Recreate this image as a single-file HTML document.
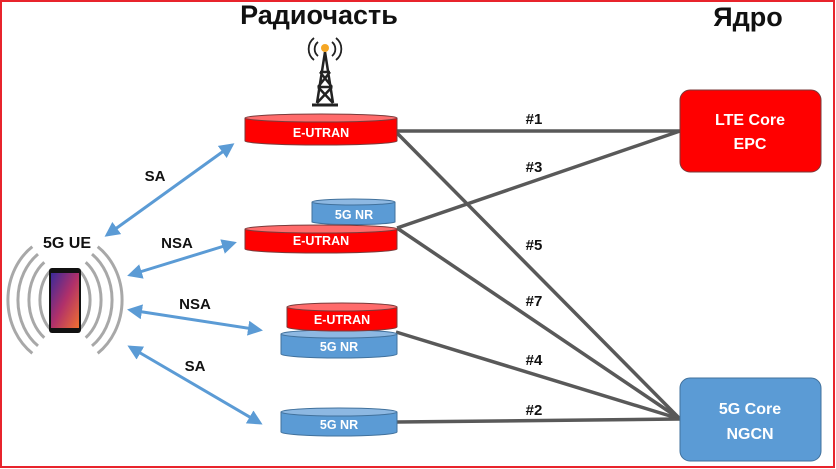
<!DOCTYPE html>
<html><head><meta charset="utf-8"><style>
html,body{margin:0;padding:0;background:#fff}
svg{display:block}
text{font-family:"Liberation Sans",sans-serif;font-weight:bold}
</style></head><body>
<svg width="836" height="469" viewBox="0 0 836 469" xmlns="http://www.w3.org/2000/svg">
<defs>
<marker id="ah" viewBox="0 0 10 10" refX="8" refY="5" markerWidth="5" markerHeight="5" orient="auto-start-reverse"><path d="M0,0 L10,5 L0,10 z" fill="#5b9bd5"/></marker>
<linearGradient id="pg" x1="0" y1="0" x2="1" y2="1"><stop offset="0" stop-color="#3a2a9a"/><stop offset="0.5" stop-color="#b0306a"/><stop offset="1" stop-color="#f07030"/></linearGradient>
</defs>
<rect x="1" y="1" width="833" height="466" fill="#fff" stroke="#e8242c" stroke-width="2"/>
<text x="319" y="24" font-size="27" text-anchor="middle" fill="#111">Радиочасть</text>
<text x="748" y="26" font-size="27" text-anchor="middle" fill="#111">Ядро</text>
<!-- tower -->
<g stroke="#222" stroke-width="2.5" fill="none">
<path d="M325,52 L317,103 M325,52 L333,103 M320,72 L330,72 M318,87 L332,87 M320,72 L332,87 M330,72 L318,87 M318,87 L333,103 M332,87 L317,103"/>
<path d="M312,105 L338,105" stroke-width="3"/>
<path d="M318,42 a9,9 0 0 0 0,14 M332,42 a9,9 0 0 1 0,14 M314,38 a14,14 0 0 0 0,22 M336,38 a14,14 0 0 1 0,22" stroke-width="1.8"/>
</g>
<circle cx="325" cy="48" r="4" fill="#f5a623"/>
<!-- gray lines -->
<g stroke="#595959" stroke-width="3.5" fill="none">
<line x1="397" y1="131" x2="680" y2="131"/>
<line x1="397" y1="133" x2="680" y2="419"/>
<line x1="397" y1="228" x2="680" y2="131"/>
<line x1="397" y1="228" x2="680" y2="419"/>
<line x1="396" y1="332" x2="680" y2="419"/>
<line x1="397" y1="422" x2="680" y2="419"/>
</g>
<g font-size="15" fill="#111" text-anchor="middle">
<text x="534" y="124">#1</text>
<text x="534" y="172">#3</text>
<text x="534" y="250">#5</text>
<text x="534" y="306">#7</text>
<text x="534" y="365">#4</text>
<text x="534" y="415">#2</text>
</g>
<!-- cylinders -->
<g font-size="12.5" fill="#fff" text-anchor="middle" stroke-width="1">
<path d="M245,118 v23 a76,4 0 0 0 152,0 v-23" fill="#ff0000" stroke="#7a3a3a"/>
<ellipse cx="321" cy="118" rx="76" ry="4" fill="#ff6b6b" stroke="#7a3a3a"/>
<text x="321" y="137">E-UTRAN</text>
<path d="M312,202 v20 a42,3 0 0 0 83,0 v-20" fill="#5b9bd5" stroke="#41719c"/>
<ellipse cx="353.5" cy="202" rx="41.5" ry="3" fill="#8db8e2" stroke="#41719c"/>
<text x="354" y="219">5G NR</text>
<path d="M245,229 v20 a76,4 0 0 0 152,0 v-20" fill="#ff0000" stroke="#7a3a3a"/>
<ellipse cx="321" cy="229" rx="76" ry="4" fill="#ff6b6b" stroke="#7a3a3a"/>
<text x="321" y="245">E-UTRAN</text>
<path d="M281,334 v20 a58,4 0 0 0 116,0 v-20" fill="#5b9bd5" stroke="#41719c"/>
<ellipse cx="339" cy="334" rx="58" ry="4" fill="#8db8e2" stroke="#41719c"/>
<text x="339" y="351">5G NR</text>
<path d="M287,307 v20 a55,4 0 0 0 110,0 v-20" fill="#ff0000" stroke="#7a3a3a"/>
<ellipse cx="342" cy="307" rx="55" ry="4" fill="#ff6b6b" stroke="#7a3a3a"/>
<text x="342" y="324">E-UTRAN</text>
<path d="M281,412 v20 a58,4 0 0 0 116,0 v-20" fill="#5b9bd5" stroke="#41719c"/>
<ellipse cx="339" cy="412" rx="58" ry="4" fill="#8db8e2" stroke="#41719c"/>
<text x="339" y="429">5G NR</text>
</g>
<!-- cores -->
<rect x="680" y="90" width="141" height="82" rx="10" fill="#ff0000" stroke="#7a3a3a"/>
<text x="750" y="125" font-size="16" fill="#fff" text-anchor="middle">LTE Core</text>
<text x="750" y="149" font-size="16" fill="#fff" text-anchor="middle">EPC</text>
<rect x="680" y="378" width="141" height="83" rx="10" fill="#5b9bd5" stroke="#41719c"/>
<text x="750" y="414" font-size="16" fill="#fff" text-anchor="middle">5G Core</text>
<text x="750" y="439" font-size="16" fill="#fff" text-anchor="middle">NGCN</text>
<!-- blue arrows -->
<g stroke="#5b9bd5" stroke-width="3" marker-start="url(#ah)" marker-end="url(#ah)">
<line x1="107" y1="235" x2="232" y2="145"/>
<line x1="130" y1="275" x2="234" y2="243"/>
<line x1="130" y1="310" x2="260" y2="330"/>
<line x1="130" y1="347" x2="260" y2="423"/>
</g>
<g font-size="15" fill="#111" text-anchor="middle">
<text x="155" y="181">SA</text>
<text x="177" y="248">NSA</text>
<text x="195" y="309">NSA</text>
<text x="195" y="371">SA</text>
<text x="67" y="248" font-size="16">5G UE</text>
</g>
<!-- phone waves -->
<g fill="none" stroke="#9a9a9a" stroke-width="3" opacity="0.85">
<path d="M50.6,270.5 A25,36 0 0 0 50.6,329.5 M79.4,270.5 A25,36 0 0 1 79.4,329.5"/>
<path d="M44.3,262.3 A36,46 0 0 0 44.3,337.7 M85.7,262.3 A36,46 0 0 1 85.7,337.7"/>
<path d="M38,254.1 A47,56 0 0 0 38,345.9 M92,254.1 A47,56 0 0 1 92,345.9"/>
<path d="M32.3,246.7 A57,65 0 0 0 32.3,353.3 M97.7,246.7 A57,65 0 0 1 97.7,353.3"/>
</g>
<rect x="49" y="268" width="32" height="65" rx="3" fill="#111"/>
<rect x="51" y="273" width="28" height="55" fill="url(#pg)"/>
</svg>
</body></html>
